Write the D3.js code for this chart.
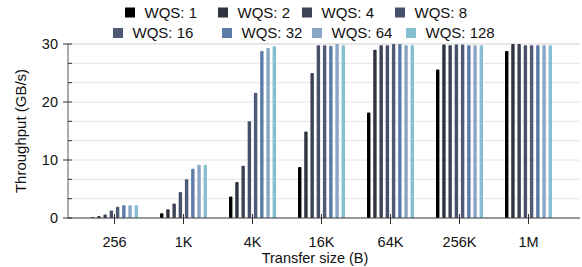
<!DOCTYPE html>
<html>
<head>
<meta charset="utf-8">
<script src="https://cdn.jsdelivr.net/npm/d3@7"></script>
<style>
  body { margin: 0; background: #fff; }
  text { font-family: "Liberation Sans", Arial, sans-serif; fill: #111; }
</style>
</head>
<body>
<div id="chart"></div>
<script>
// chart data
const sizes = ['256', '1K', '4K', '16K', '64K', '256K', '1M'];
const series = ['WQS: 1', 'WQS: 2', 'WQS: 4', 'WQS: 8', 'WQS: 16', 'WQS: 32', 'WQS: 64', 'WQS: 128'];
const colors = ['#000000', '#2f3440', '#3b4355', '#46506a', '#4f5a75', '#5b7ca8', '#8ba5c6', '#86c0d0'];
// one row per WQS, one value per transfer size (GB/s)
const wqs1   = [0.15, 0.8, 3.7, 8.8, 18.2, 25.6, 28.8];
const wqs2   = [0.35, 1.5, 6.2, 14.9, 29.0, 29.9, 30.0];
const wqs4   = [0.6, 2.5, 9.0, 25.0, 29.8, 29.8, 30.0];
const wqs8   = [1.3, 4.5, 16.7, 29.8, 29.8, 29.9, 29.8];
const wqs16  = [1.95, 6.7, 21.6, 29.8, 30.0, 29.9, 29.8];
const wqs32  = [2.2, 8.5, 28.8, 29.7, 30.0, 29.8, 29.8];
const wqs64  = [2.2, 9.2, 29.3, 30.0, 29.8, 29.8, 29.8];
const wqs128 = [2.2, 9.2, 29.6, 29.8, 29.8, 29.8, 29.8];
const values = [wqs1, wqs2, wqs4, wqs8, wqs16, wqs32, wqs64, wqs128];
const yTicks = [0, 10, 20, 30];

const width = 582, height = 267;
const margin = {left: 68, right: 2, top: 44, bottom: 49};

const svg = d3.select('#chart')
  .append('svg')
  .attr('width', width)
  .attr('height', height);

const x = d3.scaleBand()
  .domain(sizes)
  .range([80, 563]);

const xi = d3.scaleBand()
  .domain(series)
  .range([-23.5, 23.5])
  .paddingInner(0.45);

const y = d3.scaleLinear()
  .domain([0, 30])
  .range([height - margin.bottom, margin.top]);

// grid lines every 10/3
const grid = d3.range(1, 10).map(i => i * 10 / 3);
svg.append('g')
  .selectAll('line')
  .data(grid)
  .enter().append('line')
  .attr('x1', margin.left)
  .attr('x2', width - margin.right)
  .attr('y1', d => y(d))
  .attr('y2', d => y(d))
  .attr('stroke', d => d > 29 ? '#cfcfcf' : '#e4e4e4')
  .attr('stroke-width', 1);

// bars
const groups = svg.append('g')
  .selectAll('g')
  .data(series)
  .enter().append('g')
  .attr('fill', (d, i) => colors[i]);

groups.selectAll('rect')
  .data((s, i) => values[i].map((v, j) => ({s, v, size: sizes[j]})))
  .enter().append('rect')
  .attr('x', d => x(d.size) + x.bandwidth() / 2 + xi(d.s))
  .attr('width', xi.bandwidth())
  .attr('y', d => y(d.v))
  .attr('height', d => y(0) - y(d.v))
  .attr('rx', 1);

// y axis
const yAxis = svg.append('g')
  .attr('transform', `translate(${margin.left},0)`);
yAxis.append('line')
  .attr('y1', y(0)).attr('y2', y(30))
  .attr('stroke', '#555');
yAxis.selectAll('.major')
  .data(yTicks)
  .enter().append('line')
  .attr('x1', -5).attr('x2', 4)
  .attr('y1', d => y(d)).attr('y2', d => y(d))
  .attr('stroke', '#333');
yAxis.selectAll('.minor')
  .data(grid.filter(d => Math.abs(d - Math.round(d / 10) * 10) > 0.1))
  .enter().append('line')
  .attr('x1', 0).attr('x2', 4)
  .attr('y1', d => y(d)).attr('y2', d => y(d))
  .attr('stroke', '#333');
yAxis.selectAll('text')
  .data(yTicks)
  .enter().append('text')
  .attr('x', -10)
  .attr('y', d => y(d))
  .attr('dy', '0.35em')
  .attr('text-anchor', 'end')
  .attr('font-size', 14.5)
  .text(d => d);

// x axis
const xAxis = svg.append('g');
xAxis.append('line')
  .attr('x1', margin.left).attr('x2', width - margin.right)
  .attr('y1', y(0)).attr('y2', y(0))
  .attr('stroke', '#333');
xAxis.selectAll('.tick')
  .data(sizes)
  .enter().append('line')
  .attr('x1', d => x(d) + x.bandwidth() / 2)
  .attr('x2', d => x(d) + x.bandwidth() / 2)
  .attr('y1', y(0) - 4).attr('y2', y(0) + 6)
  .attr('stroke', '#333');
xAxis.selectAll('text')
  .data(sizes)
  .enter().append('text')
  .attr('x', d => x(d) + x.bandwidth() / 2)
  .attr('y', 247)
  .attr('text-anchor', 'middle')
  .attr('font-size', 14.5)
  .text(d => d);

svg.append('text')
  .attr('x', 315)
  .attr('y', 263)
  .attr('text-anchor', 'middle')
  .attr('font-size', 14.5)
  .text('Transfer size (B)');

svg.append('text')
  .attr('transform', 'translate(26,131) rotate(-90)')
  .attr('text-anchor', 'middle')
  .attr('font-size', 15)
  .text('Throughput (GB/s)');

// legend, two rows
const legendPos = [
  [125, 12.5], [218, 12.5], [302, 12.5], [395, 12.5],
  [113, 33], [222, 33], [312, 33], [406, 33]
];
const legend = svg.append('g')
  .selectAll('g')
  .data(series)
  .enter().append('g')
  .attr('transform', (d, i) => `translate(${legendPos[i][0]},${legendPos[i][1]})`);
legend.append('rect')
  .attr('x', 0).attr('y', -5)
  .attr('width', 10).attr('height', 10)
  .attr('fill', (d, i) => colors[i]);
legend.append('text')
  .attr('x', 19.5)
  .attr('dy', '0.36em')
  .attr('font-size', 15)
  .text(d => d);
</script>
</body>
</html>
